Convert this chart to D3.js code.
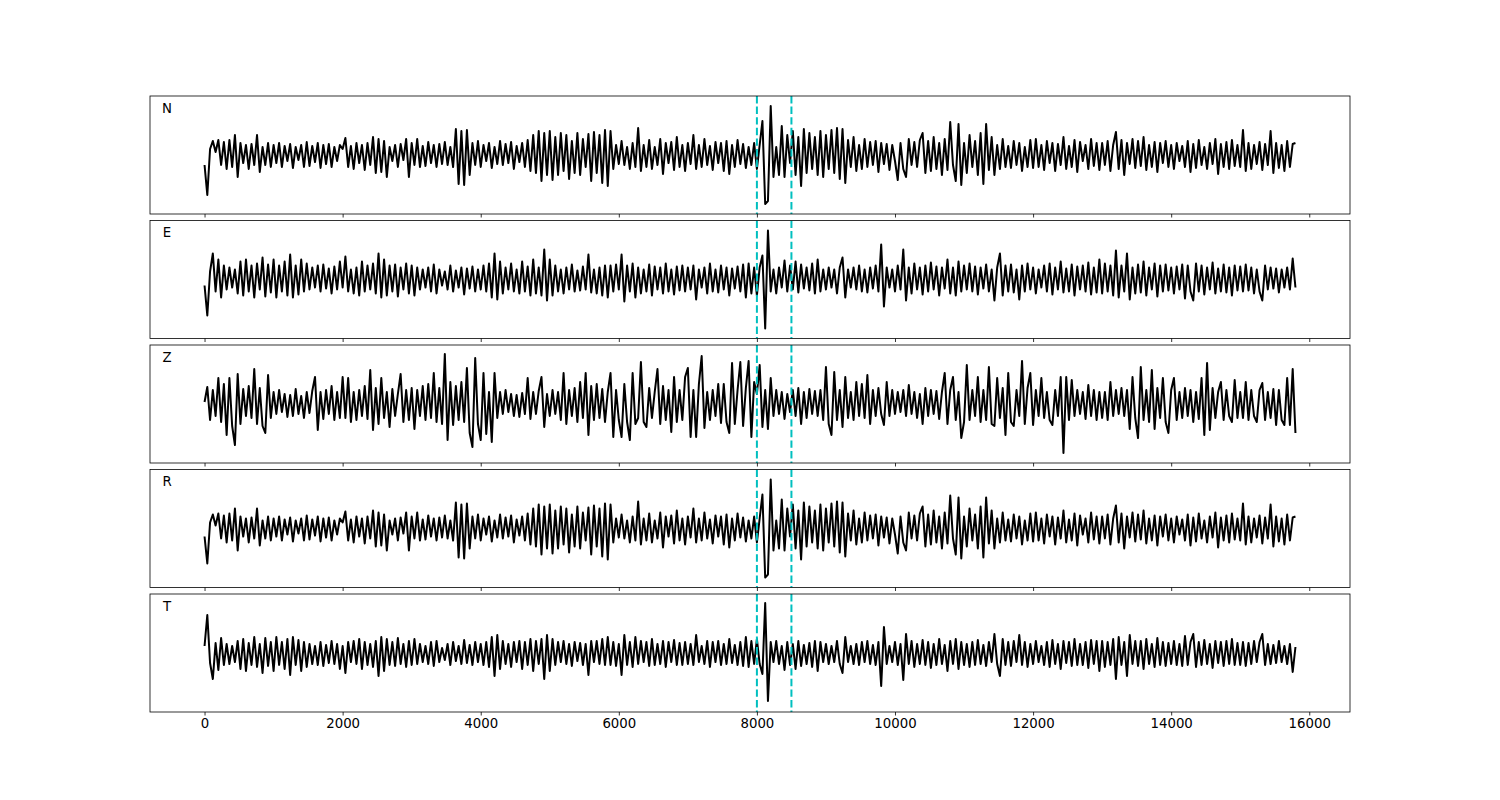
<!DOCTYPE html>
<html>
<head>
<meta charset="utf-8">
<script src="https://cdn.jsdelivr.net/npm/d3@7"></script>
<style>
  body { margin: 0; background: #fff; }
  text { font-family: "DejaVu Sans", sans-serif; }
</style>
</head>
<body>
<script>
// Station components, one panel each
const components = ['N', 'E', 'Z', 'R', 'T'];
const sampleStep = 40;          // x distance between samples
const pickTimes = [8000, 8500]; // dashed cyan markers
const tickValues = [0, 2000, 4000, 6000, 8000, 10000, 12000, 14000, 16000];

// Traces (amplitude, one value every 40 samples)
const seriesN = [
  -10,-40,6,14,3,15,-10,13,-14,15,-12,20,-22,12,-8,10,-14,11,-10,20,-17,8,-10,12,-12,
  10,-8,12,-12,9,-6,11,-13,8,-5,10,-12,13,-11,9,-7,12,-13,10,-9,11,-12,8,-6,10,
  6,17,-12,9,-14,12,-8,10,-15,12,-10,18,-18,16,-17,14,-22,8,-6,10,-12,11,-5,16,-22,
  12,-10,16,-12,9,-11,13,-8,10,-12,11,-9,13,-10,8,-12,26,-29,24,-30,25,-20,12,-10,14,
  -12,10,-6,12,-13,8,-9,14,-10,11,-8,13,-14,9,-7,12,-12,15,-16,20,-18,24,-26,22,-20,
  24,-25,18,-20,22,-16,20,-24,14,-18,22,-20,16,-12,21,-26,23,-18,20,-28,25,-31,24,-14,10,
  -9,14,-10,8,-14,12,-12,27,-16,10,-12,15,-14,8,-10,16,-19,12,-8,13,-15,18,-12,10,-16,
  12,-9,20,-14,10,-12,16,-10,9,-15,13,-8,12,-16,14,-19,10,-12,15,-9,11,-13,8,-10,12,
  -14,10,34,-49,-46,49,-22,8,-20,29,-22,20,-8,24,-20,18,-31,26,-18,22,-14,18,-20,24,-22,
  20,-14,25,-18,27,-24,26,-28,15,-12,18,-16,10,-14,16,-12,13,-10,14,-17,12,-9,11,-15,10,
  -6,-25,12,-14,-22,16,-10,13,-12,15,22,-18,14,-16,18,-14,12,-20,16,-15,33,-10,-26,31,-30,
  12,-18,20,-12,14,-20,22,-29,31,-15,18,-20,10,-14,16,-12,9,-13,14,-10,12,-16,8,-12,15,
  -13,16,-12,10,-15,14,-8,12,-16,11,-10,18,-14,9,-12,15,-17,13,-6,10,-14,16,-11,12,-15,
  12,-10,14,-16,10,23,-14,15,-20,12,-9,16,-13,14,-11,18,-15,10,-12,13,-17,12,-8,14,-12,
  10,-14,12,-6,9,-12,14,-17,11,-13,15,-10,8,-14,12,-9,16,-19,11,-12,13,-14,15,-11,10,
  -12,25,-16,12,-14,10,-9,13,-15,11,-10,24,-18,12,-13,10,-16,14,-12,11,12
];

const seriesE = [
  -6,-36,8,26,-12,20,-18,14,-10,12,-8,10,-14,18,-16,20,-12,14,-18,16,-10,22,-17,15,-13,
  20,-18,14,-12,18,-16,25,-18,14,-15,20,-12,16,-10,12,-8,14,-12,15,-9,11,-14,13,-10,18,
  -8,23,-12,10,-14,12,-16,18,-12,14,-10,16,-14,26,-18,20,-16,14,-12,15,-17,12,-10,16,-14,
  14,-16,12,-10,10,-8,12,-12,15,-14,10,-6,8,-10,14,-12,9,-8,12,-15,11,-9,13,-12,10,
  -10,14,-12,16,-18,26,-20,18,-14,12,-10,16,-12,10,-14,18,-12,13,-16,20,-14,12,-16,30,-21,
  20,-16,14,-12,10,-14,12,-10,15,-12,9,-11,13,-10,25,-13,10,-14,12,-16,14,-18,14,-12,15,
  -10,25,-22,14,-12,16,-18,12,-14,10,-12,15,-16,13,-10,12,-14,16,-12,10,-15,13,-11,14,-12,
  12,-10,14,-20,10,-8,12,-14,16,-12,10,-13,14,-10,12,-16,11,-9,13,-12,15,-18,16,-14,12,
  -16,12,24,-49,49,-12,10,-14,12,-8,19,-12,14,-10,18,-13,15,-9,12,-11,16,-14,20,-12,10,
  -10,12,-8,10,-14,12,22,-18,10,-8,12,-10,14,-12,10,-13,12,-9,14,-12,35,-27,12,-8,10,
  -12,14,-10,30,-21,12,-14,16,-10,12,-15,14,-12,17,-10,13,-16,12,-9,20,-14,12,-16,18,-12,
  14,-10,16,-12,13,-15,12,-9,15,-12,10,-21,12,26,-16,14,-12,15,-13,10,-20,14,-12,16,-10,
  12,-14,10,-8,14,-12,16,-15,12,-10,18,-13,11,-12,15,-16,13,-10,14,-12,17,-15,12,-13,20,
  -14,16,-12,14,-16,29,-18,14,-12,26,-20,12,-14,15,-13,18,-16,12,-10,16,-17,14,-12,15,-11,
  12,-14,13,-10,15,-19,14,-12,-21,16,-12,14,-15,12,-10,17,-14,11,-12,15,-13,12,-16,14,-11,
  13,-12,15,-11,12,-14,10,-12,-21,14,-10,12,-9,11,-13,10,-8,12,-10,21,-8
];

const seriesZ = [
  2,17,-16,14,-12,26,-18,20,-31,26,-22,-41,30,-20,15,-12,18,-14,35,-20,16,-22,-29,29,-14,
  12,-10,14,-8,10,-13,9,-12,15,-10,8,-14,12,-9,13,27,-26,12,-15,14,-10,18,-16,12,-14,
  27,-14,26,-18,12,-16,14,-12,18,-15,34,-26,16,-20,26,-14,12,-23,15,-12,10,30,-18,14,-16,
  16,-25,14,-12,18,-16,20,-14,31,-18,16,-20,50,-36,22,-21,18,-16,22,-18,36,-29,-43,46,-20,
  -36,31,-30,12,-38,31,-14,12,-10,14,-8,10,-12,9,-13,11,-10,26,-15,12,-10,13,27,-23,10,
  -12,14,-10,12,-16,31,-20,14,-12,16,-18,22,-14,31,-31,18,-16,20,-14,15,-18,12,31,-33,14,
  -16,-33,20,-18,-36,31,-20,-14,42,-18,-23,16,-14,12,35,-20,18,-16,14,-28,27,-18,14,-16,27,
  36,-33,14,-33,20,48,-24,12,-16,14,-12,20,-19,20,-18,-29,41,-20,14,42,-22,16,43,-33,22,
  10,39,-23,14,-25,26,-12,14,-10,12,-15,10,-8,14,-12,16,-20,12,-14,15,-10,13,-12,14,-16,
  37,-20,-31,32,-16,14,-23,27,-14,12,-16,22,-12,20,-14,29,-20,14,-12,16,-10,-21,22,-12,14,
  -10,12,-8,14,-12,19,-10,12,-14,10,-20,16,-12,14,-10,13,-15,12,31,-20,14,27,-16,12,-34,
  -18,39,-16,14,-12,27,-18,14,-16,37,-20,-22,26,-14,16,-31,31,-18,-22,14,-12,43,-20,16,31,
  -21,14,-12,26,-14,12,-16,-21,14,-12,27,-49,27,-16,24,-12,14,-10,12,-15,19,-12,14,-16,12,
  -14,12,-16,22,-12,14,-10,16,-12,14,-25,27,-14,-34,37,-16,14,-18,34,-25,16,-14,26,-18,-29,
  14,26,-16,12,-14,16,-12,14,-18,12,-15,26,-31,41,-26,16,-14,12,22,-16,14,-12,-18,24,-14,
  12,-14,22,-16,14,-12,-18,14,21,-16,12,-14,15,-21,14,-16,-21,26,-21,35,-29
];

const seriesR = [
  -8,-35,6,14,3,15,-10,13,-14,15,-12,20,-22,12,-8,10,-14,11,-10,20,-17,8,-10,12,-12,
  10,-8,12,-12,9,-6,11,-13,8,-5,10,-12,13,-11,9,-7,12,-13,10,-9,11,-12,8,-6,10,
  6,17,-12,9,-14,12,-8,10,-15,12,-10,18,-18,16,-17,14,-22,8,-6,10,-12,11,-5,16,-22,
  12,-10,16,-12,9,-11,13,-8,10,-12,11,-9,13,-10,8,-12,26,-29,24,-30,25,-20,12,-10,14,
  -12,10,-6,12,-13,8,-9,14,-10,11,-8,13,-14,9,-7,12,-12,15,-16,20,-18,24,-26,22,-20,
  24,-25,18,-20,22,-16,20,-24,14,-18,22,-20,16,-12,21,-26,23,-18,20,-28,25,-31,24,-14,10,
  -9,14,-10,8,-14,12,-12,27,-16,10,-12,15,-14,8,-10,16,-19,12,-8,13,-15,18,-12,10,-16,
  12,-9,20,-14,10,-12,16,-10,9,-15,13,-8,12,-16,14,-19,10,-12,15,-9,11,-13,8,-10,12,
  -14,10,34,-49,-46,49,-22,8,-20,29,-22,20,-8,24,-20,18,-31,26,-18,22,-14,18,-20,24,-22,
  20,-14,25,-18,27,-24,26,-28,15,-12,18,-16,10,-14,16,-12,13,-10,14,-17,12,-9,11,-15,10,
  -6,-25,12,-14,-22,16,-10,13,-12,15,22,-18,14,-16,18,-14,12,-20,16,-15,33,-10,-26,31,-30,
  12,-18,20,-12,14,-20,22,-29,31,-15,18,-20,10,-14,16,-12,9,-13,14,-10,12,-16,8,-12,15,
  -13,16,-12,10,-15,14,-8,12,-16,11,-10,18,-14,9,-12,15,-17,13,-6,10,-14,16,-11,12,-15,
  12,-10,14,-16,10,23,-14,15,-20,12,-9,16,-13,14,-11,18,-15,10,-12,13,-17,12,-8,14,-12,
  10,-14,12,-6,9,-12,14,-17,11,-13,15,-10,8,-14,12,-9,16,-19,11,-12,13,-14,15,-11,10,
  -12,25,-16,12,-14,10,-9,13,-15,11,-10,24,-18,12,-13,10,-16,14,-12,11,12
];

const seriesT = [
  7,38,-10,-26,10,-17,15,-12,9,-11,7,-9,12,-16,14,-18,10,-12,16,-14,9,-20,15,-13,11,
  -18,16,-12,11,-16,14,-22,16,-12,13,-18,11,-14,9,-11,7,-12,11,-13,8,-10,12,-11,9,-16,
  7,-20,11,-9,12,-11,14,-16,11,-12,9,-14,12,-23,16,-18,14,-12,11,-13,15,-11,9,-14,12,
  -12,14,-11,9,-9,7,-11,11,-13,12,-9,5,-7,9,-12,11,-8,7,-11,13,-10,8,-12,11,-9,
  9,-12,11,-14,16,-23,18,-16,12,-11,9,-14,11,-9,12,-16,11,-12,14,-18,12,-11,14,-26,18,
  -18,14,-12,11,-9,12,-11,9,-13,11,-8,10,-12,9,-22,12,-9,12,-11,14,-12,16,-12,11,-13,
  9,-22,18,-12,11,-14,16,-11,12,-9,11,-13,14,-12,9,-11,12,-14,11,-9,13,-12,10,-12,11,
  -11,9,-12,18,-9,7,-11,12,-14,11,-9,12,-12,9,-11,14,-10,8,-12,11,-13,16,-14,12,-11,
  14,-11,-21,50,-48,11,-9,12,-11,7,-17,11,-12,9,-16,12,-13,8,-11,10,-14,12,-18,11,-9,
  9,-11,7,-9,12,-11,-20,16,-9,7,-11,9,-12,11,-9,12,-11,8,-12,11,-33,26,-11,7,-9,
  11,-12,9,-27,19,-11,12,-14,9,-11,13,-12,11,-15,9,-12,14,-11,8,-18,12,-11,14,-16,11,
  -12,9,-14,11,-12,13,-11,8,-13,11,-9,19,-11,-23,14,-12,11,-13,12,-9,18,-12,11,-14,9,
  -11,12,-9,7,-12,11,-14,13,-11,9,-16,12,-10,11,-13,14,-12,9,-12,11,-15,13,-11,12,-18,
  12,-14,11,-12,14,-26,16,-12,11,-23,18,-11,12,-13,12,-16,14,-11,9,-14,15,-12,11,-13,10,
  -11,12,-12,9,-13,17,-12,11,19,-14,11,-12,13,-11,9,-15,12,-10,11,-13,12,-11,14,-12,10,
  -12,11,-13,10,-11,12,-9,11,19,-12,9,-11,8,-10,12,-9,7,-11,9,-19,6
];

const traces = [seriesN, seriesE, seriesZ, seriesR, seriesT];

// Layout
const width = 1500;
const height = 800;
const margin = { left: 150, right: 150, top: 96, bottom: 88 };
const panelHeight = 118;
const panelGap = 6.5;

const svg = d3.select('body')
  .append('svg')
  .attr('width', width)
  .attr('height', height);

const x = d3.scaleLinear()
  .domain([-790, 16590])
  .range([margin.left, width - margin.right]);

const line = d3.line()
  .x((d, i) => x(i * sampleStep))
  .y(d => d);

components.forEach((name, k) => {
  const top = margin.top + k * (panelHeight + panelGap);
  const y = d3.scaleLinear()
    .domain([-59, 59])
    .range([top + panelHeight, top]);

  const panel = svg.append('g').attr('class', 'panel');

  const clipId = `clip-${name}`;
  panel.append('clipPath')
    .attr('id', clipId)
    .append('rect')
    .attr('x', margin.left)
    .attr('y', top)
    .attr('width', width - margin.left - margin.right)
    .attr('height', panelHeight);

  const body = panel.append('g').attr('clip-path', `url(#${clipId})`);

  body.append('path')
    .datum(traces[k].map(v => y(v)))
    .attr('d', line)
    .attr('fill', 'none')
    .attr('stroke', '#000')
    .attr('stroke-width', 2)
    .attr('stroke-linejoin', 'round');

  body.selectAll('.pick')
    .data(pickTimes)
    .enter()
    .append('line')
    .attr('class', 'pick')
    .attr('x1', d => x(d))
    .attr('x2', d => x(d))
    .attr('y1', top)
    .attr('y2', top + panelHeight)
    .attr('stroke', '#00bfbf')
    .attr('stroke-width', 2)
    .attr('stroke-dasharray', '7.4,3.2');

  // x axis: tick marks on every panel, labels only on the last one
  const axis = d3.axisBottom(x)
    .tickValues(tickValues)
    .tickSize(3.5)
    .tickPadding(3.5)
    .tickFormat(k === components.length - 1 ? d3.format('d') : () => '');

  const ax = panel.append('g')
    .attr('transform', `translate(0, ${top + panelHeight})`)
    .call(axis);
  ax.select('.domain').remove();
  ax.selectAll('line').attr('stroke', '#000').attr('stroke-width', 0.8);
  ax.selectAll('text')
    .attr('fill', '#000')
    .style('font-family', '"DejaVu Sans", sans-serif')
    .style('font-size', '13.3px');

  panel.append('rect')
    .attr('x', margin.left)
    .attr('y', top)
    .attr('width', width - margin.left - margin.right)
    .attr('height', panelHeight)
    .attr('fill', 'none')
    .attr('stroke', '#000')
    .attr('stroke-width', 0.8);

  panel.append('text')
    .attr('x', 167)
    .attr('y', top + 12)
    .attr('dy', '0.35em')
    .attr('text-anchor', 'middle')
    .style('font-size', '13.3px')
    .text(name);
});
</script>
</body>
</html>
